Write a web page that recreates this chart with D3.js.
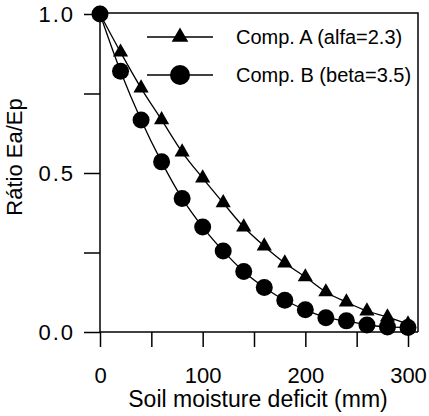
<!DOCTYPE html>
<html><head><meta charset="utf-8">
<script src="https://cdn.jsdelivr.net/npm/d3@7"></script>
<style>body{margin:0;background:#fff}svg{display:block}text{font-family:Arial,"Liberation Sans",sans-serif;fill:#000}</style>
</head><body><svg id="c" width="429" height="416"></svg>
<script>
const deficit = [0,20,40,60,80,100,120,140,160,180,200,220,240,260,280,300];
const compA = [1.0,0.88,0.767,0.667,0.566,0.484,0.406,0.33,0.27,0.217,0.173,0.126,0.094,0.066,0.047,0.025];
const compB = [1.0,0.82,0.667,0.535,0.42,0.33,0.255,0.19,0.14,0.10,0.07,0.045,0.035,0.022,0.016,0.014];
const seriesNames = ["Comp. A (alfa=2.3)","Comp. B (beta=3.5)"];
const xTicks = [0,100,200,300];
const xMinor = [50,150,250];
const yTicks = [0,0.5,1.0];
const yMinor = [0.25,0.75];

const svg = d3.select("#c");
const x = d3.scaleLinear().domain([0,300]).range([100,408]);
const y = d3.scaleLinear().domain([0,1]).range([332,14]);
const frameRight = 418, frameTop = 13;

svg.append("path").attr("d",`M${x(0)},${frameTop}H${frameRight}V${y(0)}`).attr("fill","none").attr("stroke","#000").attr("stroke-width",1.5);

const xAxis = svg.append("g").attr("transform",`translate(0,${y(0)})`)
  .call(d3.axisBottom(x).tickValues(xTicks.concat(xMinor)).tickSize(15).tickFormat(d=>xTicks.includes(d)?d:""));
xAxis.select(".domain").attr("d",`M${x(0)},0H${frameRight}`).attr("stroke-width",1.5);
xAxis.selectAll(".tick line").attr("stroke-width",1.5);
xAxis.selectAll(".tick text").attr("font-size",22).attr("font-family","Arial,'Liberation Sans',sans-serif").attr("y",51).attr("dy",0);

const yAxis = svg.append("g").attr("transform",`translate(${x(0)},0)`)
  .call(d3.axisLeft(y).tickValues(yTicks.concat(yMinor)).tickSize(16).tickFormat(d=>yTicks.includes(d)?d3.format(".1f")(d):""));
yAxis.select(".domain").attr("d",`M0,${frameTop}V${y(0)}`).attr("stroke-width",1.5);
yAxis.selectAll(".tick line").attr("stroke-width",1.5);
yAxis.selectAll(".tick text").attr("font-size",22).attr("font-family","Arial,'Liberation Sans',sans-serif").attr("x",-25).attr("dy","0.36em").attr("letter-spacing",2);

svg.append("text").attr("x",258).attr("y",407).attr("text-anchor","middle").attr("font-size",23).text("Soil moisture deficit (mm)");
svg.append("text").attr("transform","translate(22,157) rotate(-90)").attr("text-anchor","middle").attr("font-size",22).text("Rátio Ea/Ep");

const line = d3.line().x((d,i)=>x(deficit[i])).y(d=>y(d)).curve(d3.curveMonotoneX);
svg.append("path").attr("d",line(compA)).attr("fill","none").attr("stroke","#000").attr("stroke-width",1.3);
svg.append("path").attr("d",line(compB)).attr("fill","none").attr("stroke","#000").attr("stroke-width",1.3);

const tri = d3.symbol().type(d3.symbolTriangle).size(100);
svg.append("g").selectAll("path").data(compA).join("path")
  .attr("transform",(d,i)=>`translate(${x(deficit[i])},${y(d)})`).attr("d",tri()).attr("fill","#000");
svg.append("g").selectAll("circle").data(compB).join("circle")
  .attr("cx",(d,i)=>x(deficit[i])).attr("cy",d=>y(d)).attr("r",8.5).attr("fill","#000");

const lg = svg.append("g");
[[37,"A"],[75,"B"]].forEach(([ly,k],j)=>{
  lg.append("line").attr("x1",147).attr("x2",213).attr("y1",ly).attr("y2",ly).attr("stroke","#000").attr("stroke-width",1.3);
  if(k==="A") lg.append("path").attr("transform",`translate(180,${ly})`).attr("d",d3.symbol().type(d3.symbolTriangle).size(120)()).attr("fill","#000");
  else lg.append("circle").attr("cx",180).attr("cy",ly).attr("r",10).attr("fill","#000");
  lg.append("text").attr("x",236).attr("y",ly+7).attr("font-size",20).text(seriesNames[j]);
});
</script></body></html>
